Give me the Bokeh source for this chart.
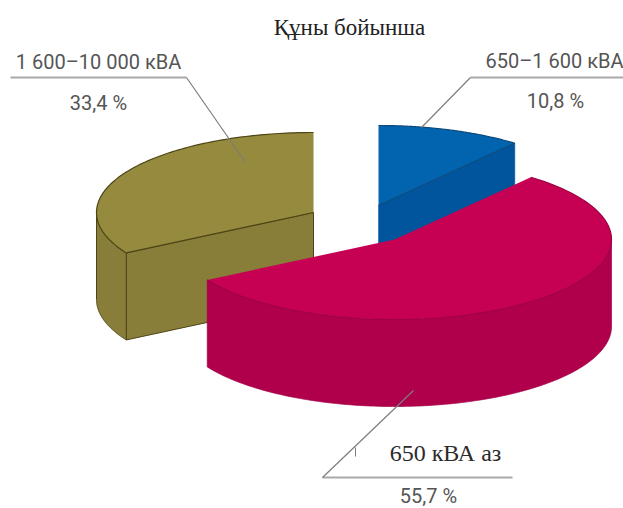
import numpy as np
from bokeh.embed import file_html
from bokeh.models import Range1d
from bokeh.plotting import figure
from bokeh.resources import INLINE

title = "Құны бойынша"
categories = ["650–1 600 кВА", "650 кВА аз", "1 600–10 000 кВА"]
shares = [10.8, 55.7, 33.4]
share_labels = ["10,8 %", "55,7 %", "33,4 %"]

top_colors = ["#0263ae", "#c60052", "#958a3e"]
side_colors = ["#00559c", "#b0004b", "#887e3a"]
edge_colors = ["#0c4a7c", "#a00046", "#4d4516"]

# slice centres on the page, exploded away from the pie's middle
centers = [(378, 205), (394, 239), (313, 212)]
RX, RY, DEPTH = 217, 80, 87

p = figure(width=623, height=508, output_backend="svg", toolbar_location=None,
           x_range=Range1d(0, 623), y_range=Range1d(508, 0), min_border=0,
           outline_line_color=None, background_fill_color="white")
p.axis.visible = False
p.grid.visible = False


def rim(cx, cy, a0, a1, n=120):
    """Points along the elliptical rim; angles are degrees clockwise from north."""
    t = np.radians(np.linspace(a0, a1, n))
    return cx + RX * np.sin(t), cy - RY * np.cos(t)


# slice angle spans, clockwise from north; the olive slice ends back at north
total = sum(shares)
spans = []
start = 0.0
for s in shares:
    spans.append((start, start + 360 * s / total))
    start += 360 * s / total

# blue, then olive, then crimson so that the crimson slice sits in front
for i in [0, 2, 1]:
    cx, cy = centers[i]
    a0, a1 = spans[i]
    xs, ys = rim(cx, cy, a0, a1)

    if i == 0:
        # cut face running from the centre out to the clockwise end of the arc
        p.patch([cx, xs[-1], xs[-1], cx], [cy, ys[-1], ys[-1] + DEPTH, cy + DEPTH],
                fill_color=side_colors[i], line_color=side_colors[i], line_width=0.5)
    if i == 2:
        # cut face from the centre out to the start of the arc
        p.patch([cx, xs[0], xs[0], cx], [cy, ys[0], ys[0] + DEPTH, cy + DEPTH],
                fill_color=side_colors[i], line_color=edge_colors[i], line_width=1)
        # rim wall between the cut and the leftmost point
        wx, wy = rim(cx, cy, a0, 270)
        p.patch(list(wx) + list(wx[::-1]), list(wy) + list(wy[::-1] + DEPTH),
                fill_color=side_colors[i], line_color=edge_colors[i], line_width=1)
    if i == 1:
        # rim wall visible from the rightmost point round to the left cut
        wx, wy = rim(cx, cy, 90, a1)
        p.patch(list(wx) + list(wx[::-1]), list(wy) + list(wy[::-1] + DEPTH),
                fill_color=side_colors[i], line_color=edge_colors[i], line_width=0.7)

    p.patch([cx] + list(xs), [cy] + list(ys), fill_color=top_colors[i],
            line_color=None)
    p.line(xs, ys, line_color=edge_colors[i], line_width=1.2)
    if i != 1:
        cut_x, cut_y = (xs[-1], ys[-1]) if i == 0 else (xs[0], ys[0])
        p.line([cx, cut_x], [cy, cut_y], line_color=edge_colors[i], line_width=1.2)

# label rules and leader lines
RULE = "#a9a9a9"
LEADER = "#7d7d7d"
p.line([470, 623], [77, 77], line_color=RULE, line_width=2)
p.line([470, 421], [77, 127], line_color=LEADER, line_width=1.2)
p.line([10, 186], [77, 77], line_color=RULE, line_width=2)
p.line([186, 245], [77, 162], line_color=LEADER, line_width=1.2)
p.line([322, 512], [477, 477], line_color=RULE, line_width=2)
p.line([322, 413], [477, 390], line_color=LEADER, line_width=1.2)
# small tick resting on the lower leader
p.line([355, 355], [447, 456], line_color=LEADER, line_width=1)


def label(x, y, text, font, size, color, align="center"):
    p.text([x], [y], text=[text], text_font={"value": font}, text_font_size=size,
           text_color=color, text_align=align, text_baseline="middle")


SANS = "Roboto"
SERIF = "Liberation Serif"
GREY = "#555555"
label(349, 27, title, SERIF, "23px", "#222222")
label(98, 61, categories[2], SANS, "20px", GREY)
label(98, 102, share_labels[2], SANS, "20px", GREY)
label(554, 60, categories[0], SANS, "20px", GREY)
label(555, 100, share_labels[0], SANS, "20px", GREY)
label(445, 452, categories[1], SERIF, "24px", "#2b2b2b")
label(428, 495, share_labels[1], SANS, "20px", GREY)

open("out.html", "w").write(file_html(p, INLINE))
